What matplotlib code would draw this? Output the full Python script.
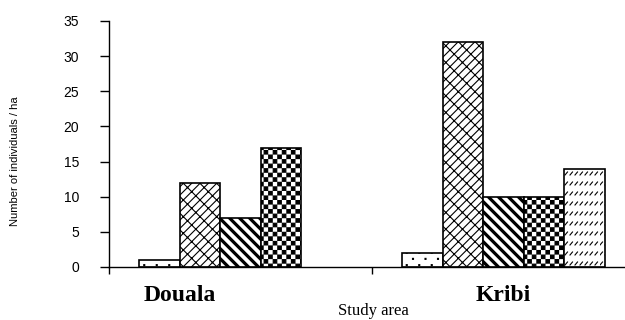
import warnings
import numpy as np
import matplotlib
matplotlib.use("Agg")
import matplotlib.pyplot as plt
import matplotlib.hatch as mhatch
import matplotlib.transforms as mtrans
from matplotlib.path import Path

warnings.filterwarnings("ignore")

# data (individuals per ha)
sites = ["Douala", "Kribi"]
sp1 = [1, 2]
sp2 = [12, 32]
sp3 = [7, 10]
sp4 = [17, 10]
sp5 = [0, 14]
y_ticks = [0, 5, 10, 15, 20, 25, 30, 35]

MOVE, LINE, CLOSE = Path.MOVETO, Path.LINETO, Path.CLOSEPOLY


# --- home made hatch patterns (unit cell = 1 inch) ---
def _square(x0, y0, x1, y1):
    return ([(x0, y0), (x1, y0), (x1, y1), (x0, y1), (x0, y0)],
            [MOVE, LINE, LINE, LINE, CLOSE])


def checker():
    n, s = 22, 0.005
    v, c = [], []
    for i in range(n):
        for j in range(n):
            if (i + j) % 2 == 0:
                vv, cc = _square(i / n + s, j / n + s, (i + 1) / n - s, (j + 1) / n - s)
                v += vv
                c += cc
    return v, c


def brick():
    n = 12
    v, c = [], []
    for k in range(-2 * n, 2 * n + 1):
        b = k / n
        v += [(-1, -1 + b), (2, 2 + b)]
        c += [MOVE, LINE]
        for j in range(-2 * n, 2 * n + 1):
            p = j / n + (k % 2) * 0.5 / n
            x0, y0 = p, p + b
            if -0.2 < x0 < 1.2 and -0.2 < y0 < 1.2:
                v += [(x0, y0), (x0 - 0.5 / n, y0 + 0.5 / n)]
                c += [MOVE, LINE]
    return v, c


def stripes():
    n, t = 10, 0.03
    v, c = [], []
    for k in range(-2, 2 * n + 3):
        c0 = k / n
        v += [(-1, c0 + 1), (2, c0 - 2), (2, c0 - 2 + t), (-1, c0 + 1 + t), (-1, c0 + 1)]
        c += [MOVE, LINE, LINE, LINE, CLOSE]
    return v, c


def dashes():
    rows, cols = 10, 20
    v, c = [], []
    for r in range(rows):
        for q in range(cols):
            x, y = q / cols, (r + 0.5) / rows
            v += [(x, y), (x + 0.025, y + 0.03)]
            c += [MOVE, LINE]
    return v, c


def dots():
    rows, cols = 16, 8
    v, c = [], []
    for r in range(rows):
        for q in range(cols + 1):
            x = q / cols + (r % 2) * 0.5 / cols
            y = (r + 0.5) / rows
            vv, cc = _square(x, y, x + 0.01, y + 0.01)
            v += vv
            c += cc
    return v, c


class CustomHatch(mhatch.HatchPatternBase):
    builders = {"c": checker, "b": brick, "s": stripes, "d": dashes, "p": dots}

    def __init__(self, hatch, density):
        v, c = [], []
        for ch, fn in self.builders.items():
            if ch in hatch:
                vv, cc = fn()
                v += vv
                c += cc
        self.verts = np.array(v, dtype=float).reshape(-1, 2)
        self.codes = np.array(c, dtype=Path.code_type)
        self.num_vertices = len(self.verts)

    def set_vertices_and_codes(self, vertices, codes):
        vertices[:] = self.verts
        codes[:] = self.codes


mhatch._hatch_types.append(CustomHatch)

plt.rcParams["hatch.linewidth"] = 0.8
plt.rcParams["hatch.color"] = "black"
plt.rcParams["font.family"] = ["Liberation Sans", "DejaVu Sans"]

fig = plt.figure(figsize=(6.25, 3.2), dpi=100)
ax = fig.add_axes([109 / 625, 1 - 267 / 320, 1 - 109 / 625, (267 - 21) / 320])

centers = np.arange(len(sites)) + 0.5
w = 0.154
series = [sp1, sp2, sp3, sp4, sp5]
hatches = ["p", "b", "s", "c", "d"]
for i, (vals, h) in enumerate(zip(series, hatches)):
    bars = ax.bar(centers + (i - 2) * w, vals, width=w, color="white",
                  edgecolor="black", linewidth=1.2, hatch=h, zorder=2)
    for b, v in zip(bars, vals):
        if v == 0:
            b.set_visible(False)

ax.set_xlim(0, 516 / 263)
ax.set_ylim(0, 35)
ax.set_yticks(y_ticks)
ax.tick_params(axis="y", length=6.5, width=1, pad=15, labelsize=10)

ax.set_xticks([0, 1])
ax.set_xticklabels(["", ""])
ax.set_xticks(centers, minor=True)
ax.set_xticklabels(sites, minor=True, fontfamily="Liberation Serif",
                   fontweight="bold", fontsize=17)
ax.tick_params(axis="x", which="major", length=5, width=1)
ax.tick_params(axis="x", which="minor", length=0, pad=13)
lab = ax.get_xticklabels(minor=True)[0]
lab.set_transform(lab.get_transform() +
                  mtrans.ScaledTranslation(-0.61, 0, fig.dpi_scale_trans))

for side in ["top", "right"]:
    ax.spines[side].set_visible(False)
for side in ["left", "bottom"]:
    ax.spines[side].set_linewidth(1)

ax.set_ylabel("Number of individuals / ha", fontsize=8)
ax.yaxis.set_label_coords(-0.172, 0.43)
ax.set_xlabel("Study area", fontfamily="Liberation Serif", fontsize=12)
ax.xaxis.set_label_coords(0.513, -0.145)

fig.savefig("out.png", dpi=100)
